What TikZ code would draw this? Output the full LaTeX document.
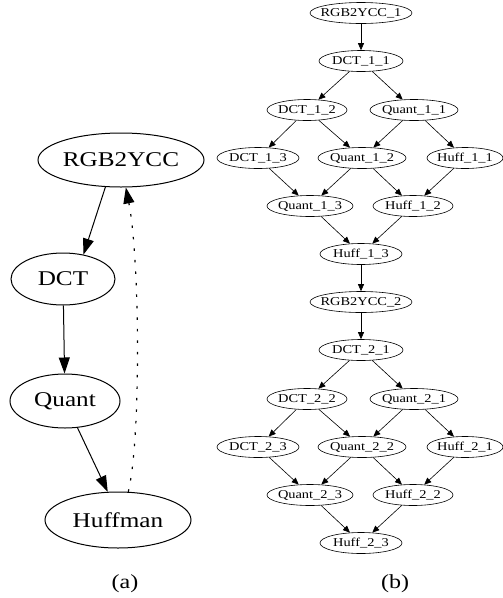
\documentclass[tikz,border=0pt]{standalone}
\usepackage{fontspec}
\setmainfont[FakeStretch=1.2]{Liberation Serif}
\usetikzlibrary{arrows.meta,shapes.geometric}

\tikzset{
    bigstate/.style={draw, ellipse, line width=1pt, inner sep=-12pt, font=\fontsize{21}{24}\selectfont},
    smallstate/.style={draw, ellipse, line width=0.6pt, inner sep=-12pt, minimum height=21pt, font=\fontsize{12}{14}\selectfont},
    bigedge/.style={-{Triangle[length=16pt,width=11pt]}, line width=1pt},
    smalledge/.style={-{Triangle[length=7pt,width=6pt]}, line width=0.6pt},
}

\begin{document}
\begin{tikzpicture}[x=1pt, y=-1pt]
    \useasboundingbox (0,0) rectangle (503,598);

    % Draw the first part: the four stages in a loop
    \node[bigstate, minimum width=166pt, minimum height=54pt] (rgb) at (121,160) {RGB2YCC};
    \node[bigstate, minimum width=104pt, minimum height=52pt] (dct) at (63,279) {DCT};
    \node[bigstate, minimum width=110pt, minimum height=54pt] (quant) at (65,401) {Quant};
    \node[bigstate, minimum width=146pt, minimum height=56pt] (huff) at (118,520) {Huffman};
    \draw[bigedge] (rgb.-120) -- (dct.50);
    \draw[bigedge] (dct) -- (quant);
    \draw[bigedge] (quant.-65) -- (huff.110);
    \draw[bigedge, line width=1.2pt, dash pattern=on 2.5pt off 9pt] (huff.70) .. controls (141,440) and (140,260) .. (rgb.-80); % back edge
    \node (capa) at (125,584) {\fontsize{20}{24}\selectfont (a)};

    % Draw the second part: two unrolled iterations
    \foreach \k/\dy in {1/0, 2/289} {
        \begin{scope}[shift={(0,\dy)}]
            \node[smallstate, minimum width=102pt] (rgb\k) at (361,13) {RGB2YCC\_\k};
            \node[smallstate, minimum width=84pt] (dct\k1) at (361,61) {DCT\_\k\_1};
            \node[smallstate, minimum width=80pt] (dct\k2) at (307,110) {DCT\_\k\_2};
            \node[smallstate, minimum width=88pt] (quant\k1) at (414,110) {Quant\_\k\_1};
            \node[smallstate, minimum width=82pt] (dct\k3) at (258,158) {DCT\_\k\_3};
            \node[smallstate, minimum width=88pt] (quant\k2) at (362,158) {Quant\_\k\_2};
            \node[smallstate, minimum width=76pt] (huff\k1) at (465,158) {Huff\_\k\_1};
            \node[smallstate, minimum width=86pt] (quant\k3) at (310,206) {Quant\_\k\_3};
            \node[smallstate, minimum width=80pt] (huff\k2) at (413,206) {Huff\_\k\_2};
            \node[smallstate, minimum width=82pt] (huff\k3) at (361,254) {Huff\_\k\_3};
            \draw[smalledge] (rgb\k) -- (dct\k1);
            \draw[smalledge] (dct\k1) -- (dct\k2);
            \draw[smalledge] (dct\k1) -- (quant\k1);
            \draw[smalledge] (dct\k2) -- (dct\k3);
            \draw[smalledge] (dct\k2) -- (quant\k2);
            \draw[smalledge] (quant\k1) -- (quant\k2);
            \draw[smalledge] (quant\k1) -- (huff\k1);
            \draw[smalledge] (dct\k3) -- (quant\k3);
            \draw[smalledge] (quant\k2) -- (quant\k3);
            \draw[smalledge] (quant\k2) -- (huff\k2);
            \draw[smalledge] (huff\k1) -- (huff\k2);
            \draw[smalledge] (quant\k3) -- (huff\k3);
            \draw[smalledge] (huff\k2) -- (huff\k3);
        \end{scope}
    }
    \draw[smalledge] (huff13) -- (rgb2); % into the next iteration
    \node (capb) at (395,584) {\fontsize{20}{24}\selectfont (b)};

\end{tikzpicture}
\end{document}
